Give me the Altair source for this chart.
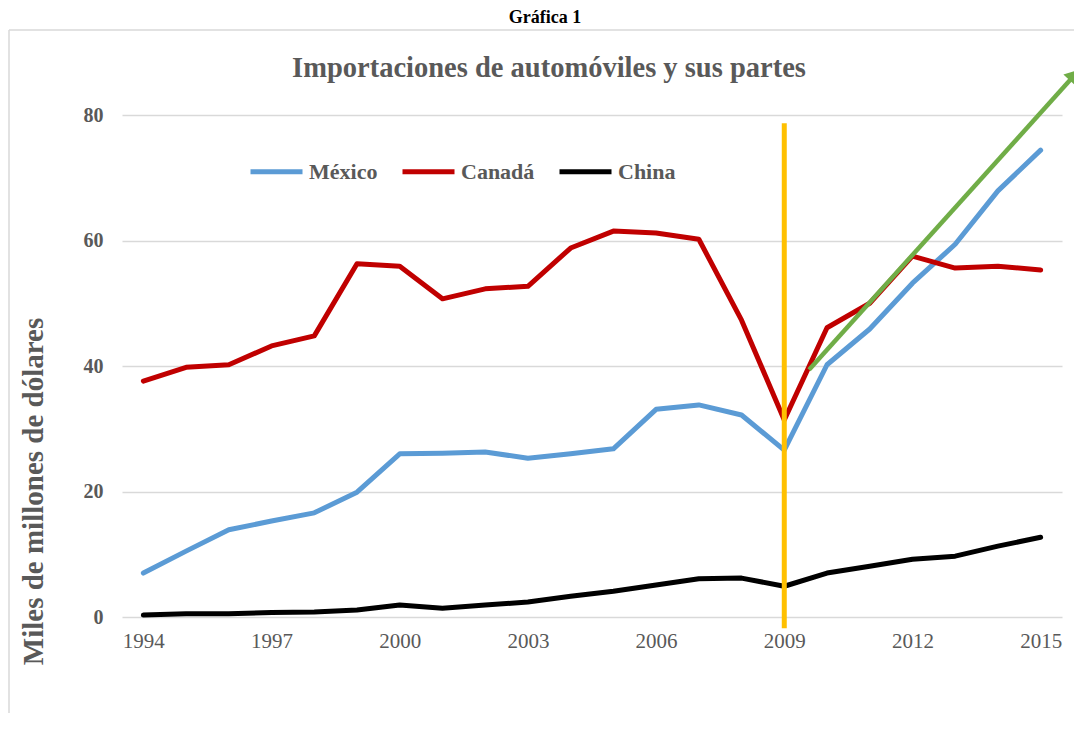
import altair as alt
import pandas as pd

years = list(range(1994, 2016))
mexico = [7.0, 10.5, 13.9, 15.3, 16.6, 19.9, 26.0, 26.1, 26.3, 25.3, 26.0, 26.8,
          33.1, 33.8, 32.2, 26.6, 40.2, 45.9, 53.2, 59.4, 67.9, 74.4]
canada = [37.6, 39.8, 40.2, 43.2, 44.8, 56.3, 55.9, 50.7, 52.3, 52.7, 58.8, 61.5,
          61.2, 60.2, 47.3, 31.4, 46.1, 50.0, 57.5, 55.6, 55.9, 55.3]
china = [0.3, 0.5, 0.5, 0.7, 0.8, 1.1, 1.9, 1.4, 1.9, 2.4, 3.3, 4.1,
         5.1, 6.1, 6.2, 4.9, 7.0, 8.1, 9.2, 9.7, 11.3, 12.7]
series = ["México", "Canadá", "China"]
colors = ["#5B9BD5", "#C00000", "#000000"]
x_ticks = [1994, 1997, 2000, 2003, 2006, 2009, 2012, 2015]
y_ticks = [0, 20, 40, 60, 80]

# marker line (2009) and trend arrow
marker_x = [2009]
marker_y = [78.7]
marker_y2 = [-1.8]
arrow_x = [2009.58, 2015.80]
arrow_y = [39.4, 86.4]

FONT = "Liberation Serif"
GRAY = "#595959"

rows = []
for name, vals in zip(series, [mexico, canada, china]):
    for yr, v in zip(years, vals):
        rows.append({"Año": yr, "Valor": v, "Serie": name})
df = pd.DataFrame(rows)

xscale = alt.Scale(domain=[1993.5, 2015.5], nice=False, zero=False)
yscale = alt.Scale(domain=[0, 80], nice=False)

lines = alt.Chart(df).mark_line(strokeWidth=5, strokeCap="round", strokeJoin="round").encode(
    x=alt.X("Año:Q", scale=xscale,
            axis=alt.Axis(values=x_ticks, format="d", grid=False, ticks=False, domain=False,
                          labelFont=FONT, labelFontSize=21, labelColor=GRAY, labelPadding=13,
                          title=None)),
    y=alt.Y("Valor:Q", scale=yscale,
            axis=alt.Axis(values=y_ticks, grid=True, ticks=False, domain=False,
                          labelFont=FONT, labelFontSize=20, labelFontWeight="bold",
                          labelColor=GRAY, labelPadding=19,
                          title="Miles de millones de dólares", titleFont=FONT,
                          titleFontSize=29, titleFontWeight="bold", titleColor=GRAY,
                          titleAngle=-90, titleX=-89, titleY=376, titleAlign="center",
                          titleBaseline="middle")),
    color=alt.Color("Serie:N", scale=alt.Scale(domain=series, range=colors),
                    legend=alt.Legend(title=None, orient="none", legendX=126, legendY=28,
                                      direction="horizontal", symbolType="stroke",
                                      symbolSize=2704, symbolStrokeWidth=5,
                                      labelFont=FONT, labelFontSize=22,
                                      labelFontWeight="bold", labelColor=GRAY,
                                      labelOffset=4, columnPadding=14)),
    detail="Serie:N",
)

mdf = pd.DataFrame({"x": marker_x, "y": marker_y, "y2": marker_y2})
marker = alt.Chart(mdf).mark_rule(color="#FFC000", strokeWidth=5).encode(
    x=alt.X("x:Q", scale=xscale), y=alt.Y("y:Q", scale=yscale), y2="y2:Q")

adf = pd.DataFrame({"x": arrow_x, "y": arrow_y})
arrow_line = alt.Chart(adf).mark_line(color="#70AD47", strokeWidth=4.5).encode(
    x=alt.X("x:Q", scale=xscale), y=alt.Y("y:Q", scale=yscale))
arrow_head = alt.Chart(adf.tail(1)).mark_point(
    shape="triangle-up", filled=True, color="#70AD47", size=300, angle=42, opacity=1
).encode(x=alt.X("x:Q", scale=xscale), y=alt.Y("y:Q", scale=yscale))

frame_v = alt.Chart(pd.DataFrame({"k": [0]})).mark_rule(color="#D9D9D9", strokeWidth=1.5).encode(
    x=alt.value(-113), y=alt.value(-85), y2=alt.value(640))
frame_h = alt.Chart(pd.DataFrame({"k": [0]})).mark_rule(color="#D9D9D9", strokeWidth=1.5).encode(
    x=alt.value(-113), x2=alt.value(980), y=alt.value(-85))
top_label = alt.Chart(pd.DataFrame({"t": ["Gráfica 1"]})).mark_text(
    font=FONT, fontSize=18, fontWeight="bold", color="#000000", align="center", baseline="middle"
).encode(x=alt.value(423), y=alt.value(-97), text="t:N")
main_title = alt.Chart(pd.DataFrame({"t": ["Importaciones de automóviles y sus partes"]})).mark_text(
    font=FONT, fontSize=28.5, fontWeight="bold", color=GRAY, align="center", baseline="middle"
).encode(x=alt.value(427), y=alt.value(-47), text="t:N")

chart = alt.layer(frame_v, frame_h, top_label, main_title, lines, marker, arrow_line,
                  arrow_head).properties(
    width=940, height=502,
    autosize=alt.AutoSizeParams(type="none"),
    padding={"left": 114, "top": 107, "right": 12, "bottom": 96},
).configure_view(stroke=None).configure_axis(gridColor="#D9D9D9", gridWidth=1.5)

chart.save("out.html", embed_options={"renderer": "svg", "actions": False})
